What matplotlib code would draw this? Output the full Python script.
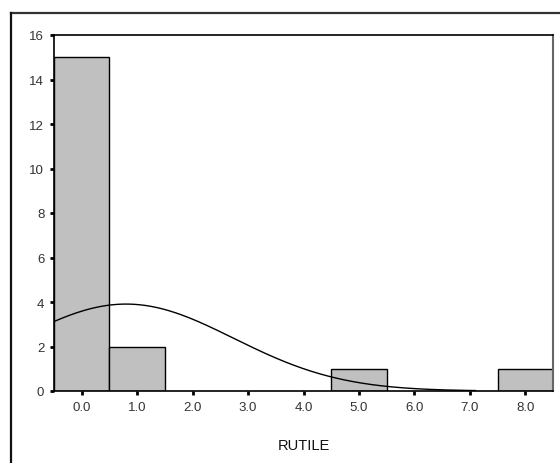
import numpy as np
import matplotlib.pyplot as plt
from matplotlib.lines import Line2D

plt.rcParams['font.family'] = ['Liberation Sans', 'DejaVu Sans']

# histogram of RUTILE (bin centres and counts)
bin_centers = [0.0, 1.0, 5.0, 8.0]
counts = [15, 2, 1, 1]
x_ticks = [0.0, 1.0, 2.0, 3.0, 4.0, 5.0, 6.0, 7.0, 8.0]
y_ticks = [0, 2, 4, 6, 8, 10, 12, 14, 16]

# normal curve parameters
curve_mean = 0.8
curve_sd = 1.94
n_total = sum(counts)
bin_width = 1.0

fig = plt.figure(figsize=(5.6, 4.64), dpi=100)
ax = fig.add_axes([54 / 560, 1 - 392 / 464, (553 - 54) / 560, (392 - 36) / 464])

ax.bar(bin_centers, counts, width=bin_width, color='#c0c0c0',
       edgecolor='black', linewidth=1.0, zorder=2)

xs = np.linspace(-0.5, 7.1, 300)
ys = n_total * bin_width / (curve_sd * np.sqrt(2 * np.pi)) * \
    np.exp(-0.5 * ((xs - curve_mean) / curve_sd) ** 2)
ax.plot(xs, ys, color='black', linewidth=1.0, zorder=3)

ax.set_xlim(-0.5, 8.5)
ax.set_ylim(0, 16)
ax.set_xticks(x_ticks)
ax.set_xticklabels([f"{v:.1f}" for v in x_ticks])
ax.set_yticks(y_ticks)
ax.tick_params(axis='both', direction='out', length=3, width=2,
               labelsize=9.5, colors='black', labelcolor='#333333')
ax.tick_params(axis='x', pad=4)
ax.tick_params(axis='y', pad=4)

for side in ['left', 'top', 'bottom']:
    ax.spines[side].set_color('black')
    ax.spines[side].set_linewidth(1.2)
ax.spines['right'].set_color('#666666')
ax.spines['right'].set_linewidth(1.5)

ax.set_xlabel('RUTILE', fontsize=10.5, color='#111111', labelpad=18)

# outer frame around the chart
fig.add_artist(Line2D([11 / 560, 1.0], [1 - 13.5 / 464, 1 - 13.5 / 464],
                      color='#333333', linewidth=1.6))
fig.add_artist(Line2D([11 / 560, 11 / 560], [0.0, 1 - 13.5 / 464],
                      color='#111111', linewidth=1.6))

fig.savefig('out.png', dpi=100)
